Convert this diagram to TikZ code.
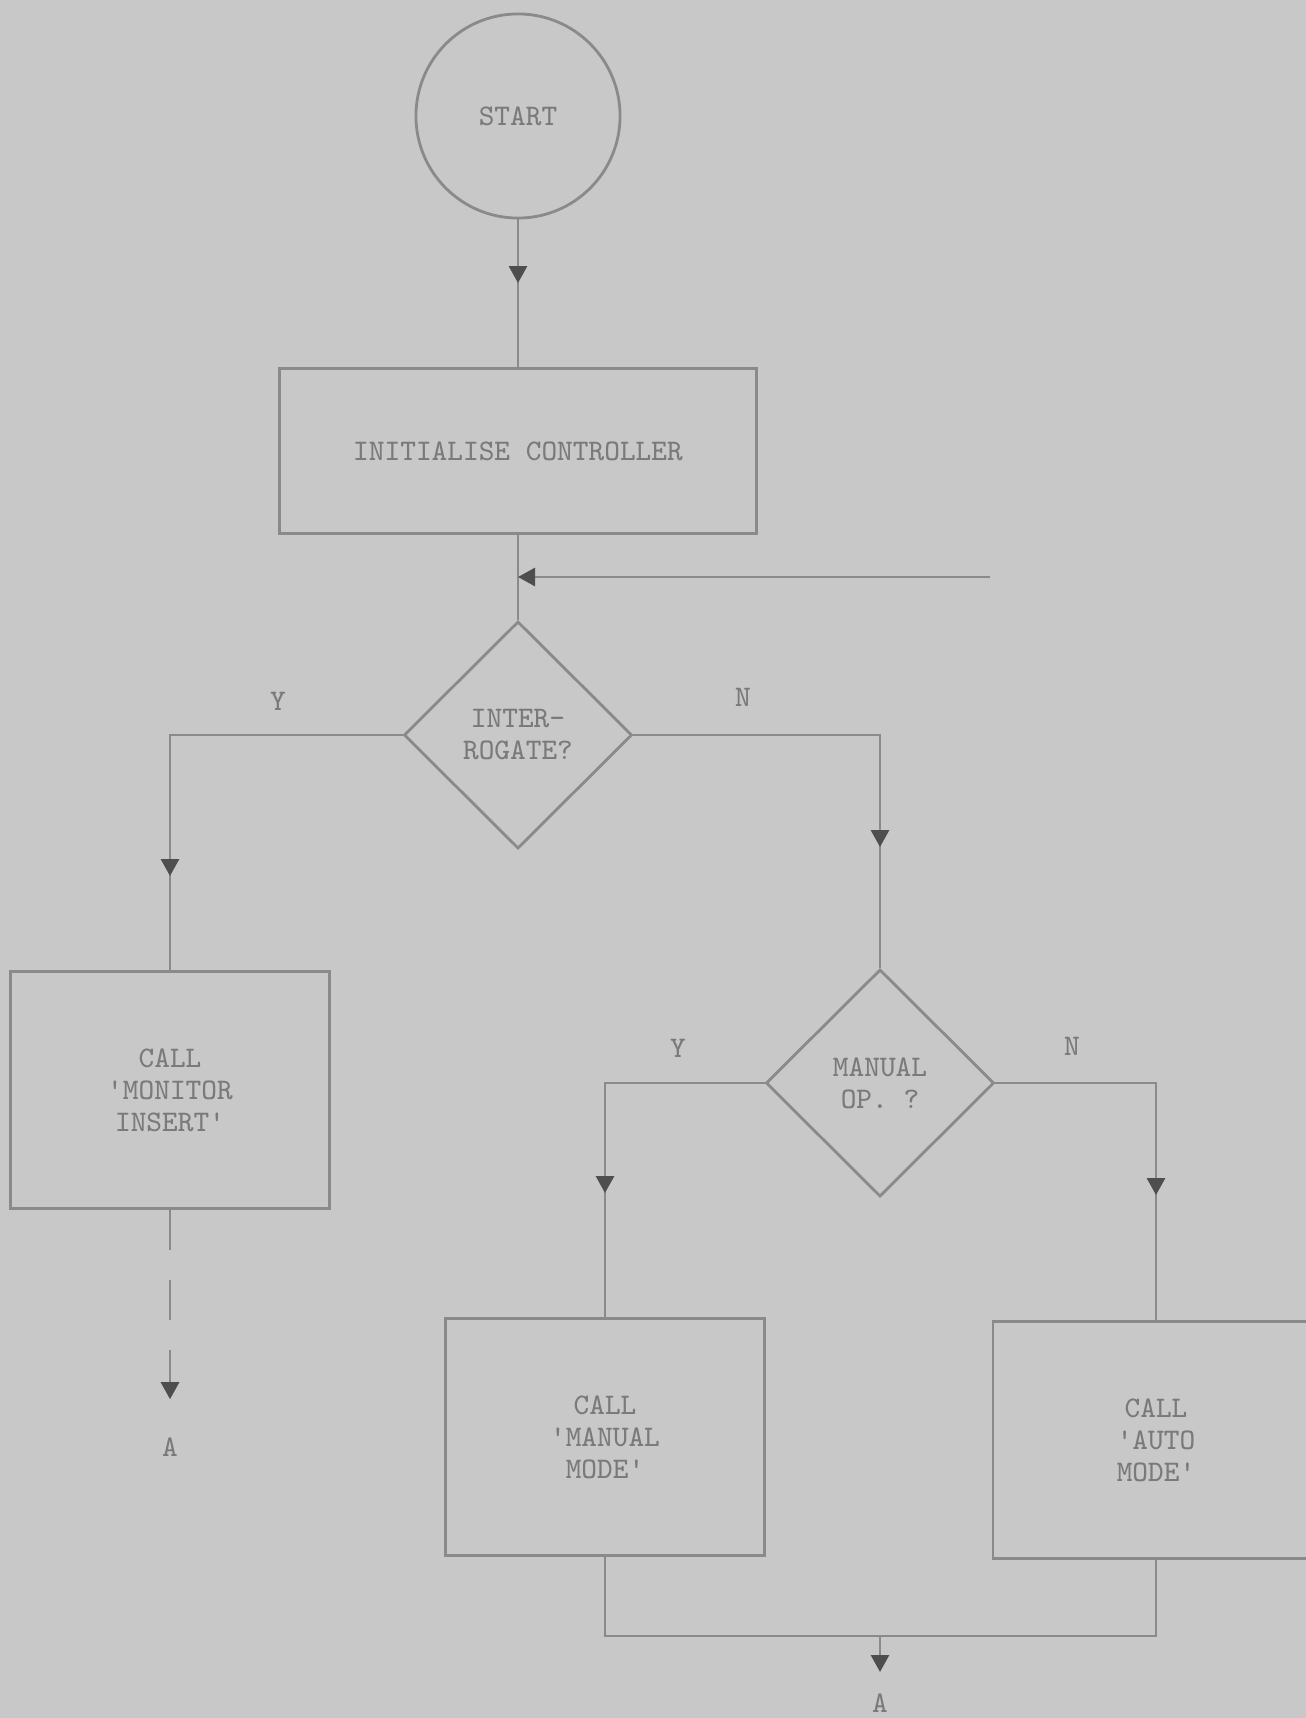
\documentclass[tikz,border=0pt]{standalone}
\usetikzlibrary{arrows.meta,calc,positioning,shapes.geometric}
\definecolor{paper}{HTML}{C8C8C8}
\definecolor{ink}{HTML}{8A8A8A}
\definecolor{inktext}{HTML}{7A7A7A}
\definecolor{tipink}{HTML}{4E4E4E}
\newcommand\tq{\textquotesingle}
\tikzset{
    flow chart/.style = {>={Triangle[length=1.7mm, width=1.8mm, color=tipink]}},
    line/.style       = {draw=ink, line width=0.8pt},
    txt/.style        = {text=inktext, align=center,
                         font=\ttfamily\fontsize{8.5}{9.1}\selectfont},
    block/.style      = {line, txt, inner sep=0pt,
                         minimum width=3.19cm, minimum height=2.37cm},
    wblock/.style     = {block, minimum width=4.76cm, minimum height=1.65cm},
    decision/.style   = {line, txt, diamond, aspect=1, inner sep=0pt,
                         minimum width=2.28cm, minimum height=2.27cm},
    terminal/.style   = {line, txt, circle, inner sep=0pt, minimum size=2.04cm},
    joinlink/.style   = {line, dash pattern=on 4mm off 3mm}
}

\begin{document}
\begin{tikzpicture}[flow chart, x=0.01cm, y=-0.01cm]

\path[use as bounding box, clip] (0,0) rectangle (1306,1718);
\fill[paper] (0,0) rectangle (1306,1718);

\node[terminal] (start) at (518,116) {START};
\node[wblock] (init) at (518,451) {INITIALISE CONTROLLER};
\node[decision] (interq) at (518,735) {INTER-\\ROGATE?};
\node[block] (monitor) at (170,1090) {CALL\\\tq MONITOR\\INSERT\tq};
\node[decision] (manualq) at (880,1083) {MANUAL\\OP. ?};
\node[block] (manual) at (605,1437) {CALL\\\tq MANUAL\\MODE\tq};
\node[block, minimum width=3.26cm] (auto) at (1156,1440) {CALL\\\tq AUTO\\MODE\tq};

\node[txt] (y1) at (278,701) {Y};
\node[txt] (n1) at (743,697) {N};
\node[txt] (y2) at (678,1048) {Y};
\node[txt] (n2) at (1072,1046) {N};
\node[txt] (a1) at (170,1447) {A};
\node[txt] (a2) at (880,1703) {A};

\coordinate (fbend) at (990,577);
\coordinate (join) at (880,1636);

\draw[line] (start) -- (init);
\draw[->, line] (start.south) -- ($(init.north)+(0,-84)$);
\draw[line] (init) -- (interq);
\draw[->, line] (fbend) -- (fbend -| interq.north);

\draw[line] (interq.west) -| (monitor.north);
\draw[->, line] (interq.west -| monitor.north) -- ($(monitor.north)+(0,-94)$);
\draw[line] (interq.east) -| (manualq.north);
\draw[->, line] (interq.east -| manualq.north) -- ($(manualq.north)+(0,-121)$);

\draw[line] (manualq.west) -| (manual.north);
\draw[->, line] (manualq.west -| manual.north) -- ($(manual.north)+(0,-124)$);
\draw[line] (manualq.east) -| (auto.north);
\draw[->, line] (manualq.east -| auto.north) -- ($(auto.north)+(0,-125)$);

\draw[->, joinlink] (monitor.south) -- ($(a1.north)+(0,-26)$);

\draw[line] (manual.south) |- (join) -| (auto.south);
\draw[->, line] (join) -- ($(join)+(0,36)$);

\end{tikzpicture}
\end{document}
